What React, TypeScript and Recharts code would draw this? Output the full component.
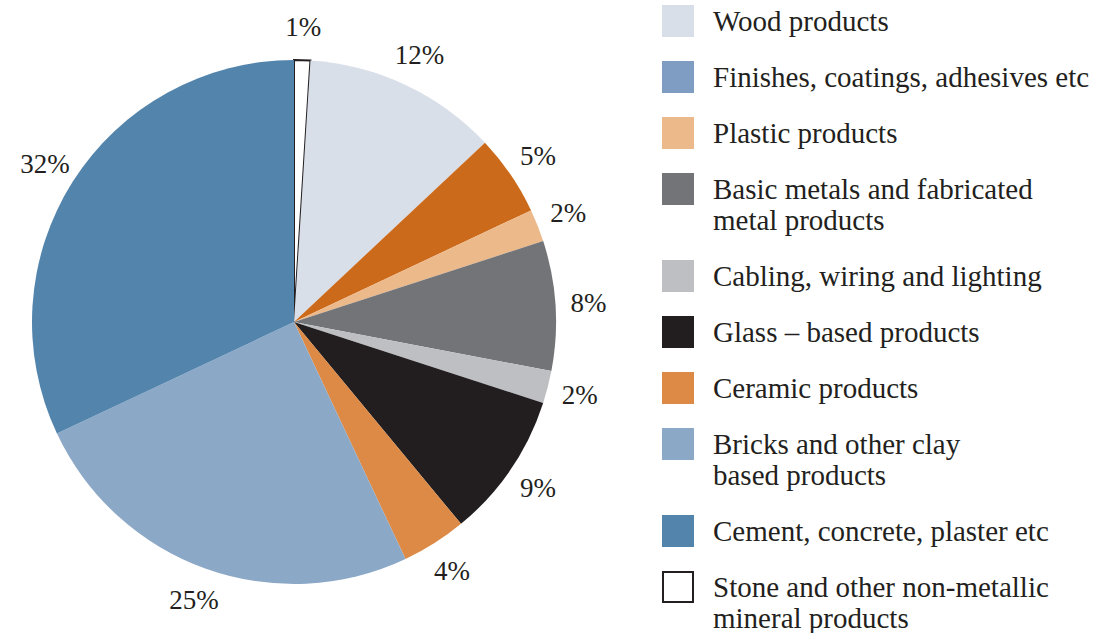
import React from "react";
import { Cell, Legend, Pie, PieChart } from "recharts";

const categories: string[][] = [
  ["Stone and other non-metallic", "mineral products"],
  ["Wood products"],
  ["Finishes, coatings, adhesives etc"],
  ["Plastic products"],
  ["Basic metals and fabricated", "metal products"],
  ["Cabling, wiring and lighting"],
  ["Glass \u2013 based products"],
  ["Ceramic products"],
  ["Bricks and other clay", "based products"],
  ["Cement, concrete, plaster etc"],
];

const shares: number[] = [1, 12, 5, 2, 8, 2, 9, 4, 25, 32];

const sliceColors: string[] = [
  "#ffffff", "#d8dfe9", "#cc6a1b", "#ecb98b", "#737478",
  "#bebfc3", "#221e1f", "#dc8a45", "#8ca8c7", "#5284ac",
];

// legend swatches (the finishes swatch is blue in the original, unlike its slice)
const legendColors: string[] = [
  "#ffffff", "#d8dfe9", "#7f9dc3", "#ecb98b", "#737478",
  "#bebfc3", "#221e1f", "#dc8a45", "#8ca8c7", "#5284ac",
];

// order shown in the legend (indices into categories)
const legendOrder: number[] = [1, 2, 3, 4, 5, 6, 7, 8, 9, 0];

const data = categories.map((lines, i) => ({
  name: lines.join(" "),
  value: shares[i],
}));

const FONT = "'Liberation Serif', 'Times New Roman', serif";
const TEXT = "#231f20";
const RAD = Math.PI / 180;

const renderLabel = (props: any) => {
  const { cx, cy, midAngle, outerRadius, value } = props;
  const r = outerRadius + 33;
  const x = cx + r * Math.cos(-midAngle * RAD);
  const y = cy + r * Math.sin(-midAngle * RAD);
  return (
    <text
      x={x}
      y={y}
      fill={TEXT}
      fontSize={27}
      fontFamily={FONT}
      textAnchor="middle"
      dominantBaseline="central"
    >
      {`${value}%`}
    </text>
  );
};

const LegendList = () => (
  <div style={{ display: "flex", flexDirection: "column", gap: 24 }}>
    {legendOrder.map((idx) => (
      <div key={idx} style={{ display: "flex", alignItems: "flex-start" }}>
        <div
          style={{
            width: 32,
            height: 32,
            background: legendColors[idx],
            border: idx === 0 ? `2px solid ${TEXT}` : "none",
            boxSizing: "border-box",
            flexShrink: 0,
          }}
        />
        <div
          style={{
            marginLeft: 19,
            marginTop: 1,
            fontFamily: FONT,
            fontSize: 29,
            lineHeight: "31px",
            color: TEXT,
            whiteSpace: "nowrap",
          }}
        >
          {categories[idx].map((line, j) => (
            <div key={j}>{line}</div>
          ))}
        </div>
      </div>
    ))}
  </div>
);

export default function App() {
  return (
    <div style={{ position: "absolute", left: 0, top: 0, background: "#fff" }}>
      <PieChart width={1093} height={633} margin={{ top: 0, right: 0, bottom: 0, left: 0 }}>
        <Pie
          data={data}
          dataKey="value"
          nameKey="name"
          cx={294}
          cy={322}
          outerRadius={262}
          startAngle={90}
          endAngle={-270}
          label={renderLabel}
          labelLine={false}
          isAnimationActive={false}
        >
          {data.map((_, i) => (
            <Cell
              key={i}
              fill={sliceColors[i]}
              stroke={i === 0 ? TEXT : "none"}
              strokeWidth={i === 0 ? 2 : 0}
            />
          ))}
        </Pie>
        <Legend
          content={() => <LegendList />}
          wrapperStyle={{ position: "absolute", left: 662, top: 5, width: 431 }}
        />
      </PieChart>
    </div>
  );
}
